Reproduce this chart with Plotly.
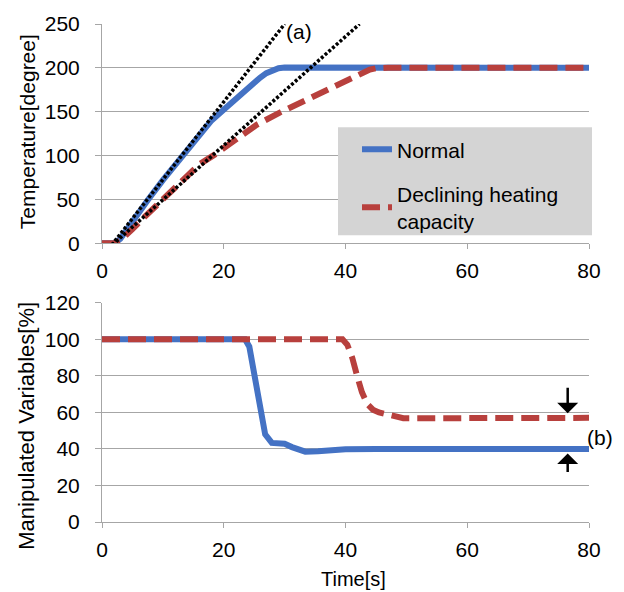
import plotly.graph_objects as go

# ---------------- data ----------------
# Top panel: temperature [degree] vs time [s]
t_norm_temp = [0, 2, 3, 4, 5, 7.5, 10, 12.5, 15, 16.5, 18, 19.8, 21.2, 22.6, 24, 25, 26, 27, 28, 29, 30, 35, 40, 80]
v_norm_temp = [0, 0, 5, 15, 26, 49, 72, 94, 116, 129, 140, 151, 160, 169, 177, 183, 189, 194, 197.5, 199.5, 200.5, 200.5, 200, 200]

t_decl_temp = [0, 2, 3, 4, 5, 7, 10, 13, 16, 18.5, 21, 25.4, 29.2, 32.5, 36, 39.6, 42.9, 44, 45, 47, 80]
v_decl_temp = [0, 0, 3, 9, 16, 30, 50, 72, 90, 101, 113, 135, 149, 160, 172, 184, 195, 198, 199.5, 200, 200]

# tangent (dotted) lines
t_tan1 = [1.6, 30.0]
v_tan1 = [-2, 250]
t_tan2 = [1.7, 42.3]
v_tan2 = [-2, 250]

# Bottom panel: manipulated variables [%] vs time [s]
t_norm_mv = [0, 23.5, 24.2, 25.1, 26, 26.8, 27.9, 30, 31.2, 33.4, 35.5, 40, 45, 80]
v_norm_mv = [100, 100, 96, 80, 61, 48, 43.3, 42.8, 41, 38.5, 38.7, 39.8, 40, 40]

t_decl_mv = [0, 39.5, 40.3, 41.1, 41.9, 42.7, 43.6, 44.5, 45.5, 47.5, 49.5, 51, 80]
v_decl_mv = [100, 100, 97, 90, 80, 71, 64.5, 61.5, 60, 58, 56.8, 56.8, 57]

x_ticks = [0, 20, 40, 60, 80]
temp_ticks = [0, 50, 100, 150, 200, 250]
mv_ticks = [0, 20, 40, 60, 80, 100, 120]

# ---------------- styles ----------------
BLUE = "#4472C4"
RED = "#B8403D"
GRID = "#a6a6a6"
FONT = "Liberation Sans, Arial, sans-serif"
DOTS = "3px,2px"

fig = go.Figure()

fig.add_trace(go.Scatter(x=t_norm_temp, y=v_norm_temp, mode="lines", name="Normal",
                         line=dict(color=BLUE, width=6), legendgroup="a",
                         xaxis="x", yaxis="y"))
fig.add_trace(go.Scatter(x=t_decl_temp, y=v_decl_temp, mode="lines",
                         name="Declining heating<br>capacity",
                         line=dict(color=RED, width=6, dash="18px,8px"), legendgroup="b",
                         xaxis="x", yaxis="y"))
fig.add_trace(go.Scatter(x=t_tan1, y=v_tan1, mode="lines", showlegend=False,
                         line=dict(color="black", width=3.5, dash=DOTS), xaxis="x", yaxis="y"))
fig.add_trace(go.Scatter(x=t_tan2, y=v_tan2, mode="lines", showlegend=False,
                         line=dict(color="black", width=3.5, dash=DOTS), xaxis="x", yaxis="y"))

fig.add_trace(go.Scatter(x=t_norm_mv, y=v_norm_mv, mode="lines", showlegend=False,
                         line=dict(color=BLUE, width=6), xaxis="x2", yaxis="y2"))
fig.add_trace(go.Scatter(x=t_decl_mv, y=v_decl_mv, mode="lines", showlegend=False,
                         line=dict(color=RED, width=6, dash="18px,8px"), xaxis="x2", yaxis="y2"))

axis_common = dict(showline=True, linecolor=GRID, linewidth=1, ticks="outside",
                   tickcolor=GRID, tickfont=dict(size=21, color="black", family=FONT),
                   zeroline=False)

fig.update_layout(
    width=624, height=592,
    margin=dict(l=102, r=35, t=20, b=70),
    paper_bgcolor="white", plot_bgcolor="white",
    font=dict(family=FONT, color="black"),
    xaxis=dict(domain=[0, 1], anchor="y", range=[0, 80], tickvals=x_ticks,
               showgrid=False, ticklen=5, ticklabelstandoff=4, **axis_common),
    yaxis=dict(domain=[0.5598, 1], anchor="x", range=[0, 250], tickvals=temp_ticks,
               showgrid=True, gridcolor=GRID, gridwidth=1, ticklen=6,
               ticklabelstandoff=11, **axis_common),
    xaxis2=dict(domain=[0, 1], anchor="y2", range=[0, 80], tickvals=x_ticks,
                showgrid=False, ticklen=5, ticklabelstandoff=4, **axis_common),
    yaxis2=dict(domain=[0, 0.4402], anchor="x2", range=[0, 120], tickvals=mv_ticks,
                showgrid=True, gridcolor=GRID, gridwidth=1, ticklen=6,
                ticklabelstandoff=11, **axis_common),
    legend=dict(x=(357 - 102) / 487, y=(522 - 126) / 502, xanchor="left", yanchor="top",
                bgcolor="rgba(0,0,0,0)", font=dict(size=21, color="black", family=FONT),
                tracegroupgap=14, itemwidth=30),
    showlegend=True,
)

# grey legend background
fig.add_shape(type="rect", xref="paper", yref="paper",
              x0=(338 - 102) / 487, x1=(592 - 102) / 487,
              y0=(522 - 233) / 502, y1=(522 - 124) / 502,
              fillcolor="#d4d4d4", line=dict(width=0), layer="above")

ann = []
ann.append(dict(text="Temperature[degree]", xref="paper", yref="paper",
                x=(27 - 102) / 487, y=(522 - 129) / 502, textangle=-90, showarrow=False,
                font=dict(size=21), xanchor="center", yanchor="middle"))
ann.append(dict(text="Manipulated Variables[%]", xref="paper", yref="paper",
                x=(27 - 102) / 487, y=(522 - 425) / 502, textangle=-90, showarrow=False,
                font=dict(size=22), xanchor="center", yanchor="middle"))
ann.append(dict(text="Time[s]", xref="paper", yref="paper",
                x=(353 - 102) / 487, y=(522 - 579) / 502, showarrow=False,
                font=dict(size=20), xanchor="center", yanchor="middle"))
ann.append(dict(text="(a)", xref="x", yref="y", x=32.3, y=242, showarrow=False,
                font=dict(size=21), xanchor="center", yanchor="middle"))
ann.append(dict(text="(b)", xref="paper", yref="paper", x=(600 - 102) / 487,
                y=(522 - 437) / 502, showarrow=False,
                font=dict(size=21), xanchor="center", yanchor="middle"))
# arrows
ann.append(dict(text="", xref="x2", yref="y2", x=76.5, y=59.5, ax=0, ay=-27,
                showarrow=True, arrowhead=1, arrowsize=1.4, arrowwidth=2.5, arrowcolor="black"))
ann.append(dict(text="", xref="x2", yref="y2", x=76.5, y=37.5, ax=0, ay=20,
                showarrow=True, arrowhead=1, arrowsize=1.4, arrowwidth=2.5, arrowcolor="black"))
fig.update_layout(annotations=ann)

fig.write_html("out.html", config={"displayModeBar": False},
               post_script="document.body.style.margin='0';document.body.style.padding='0';")
